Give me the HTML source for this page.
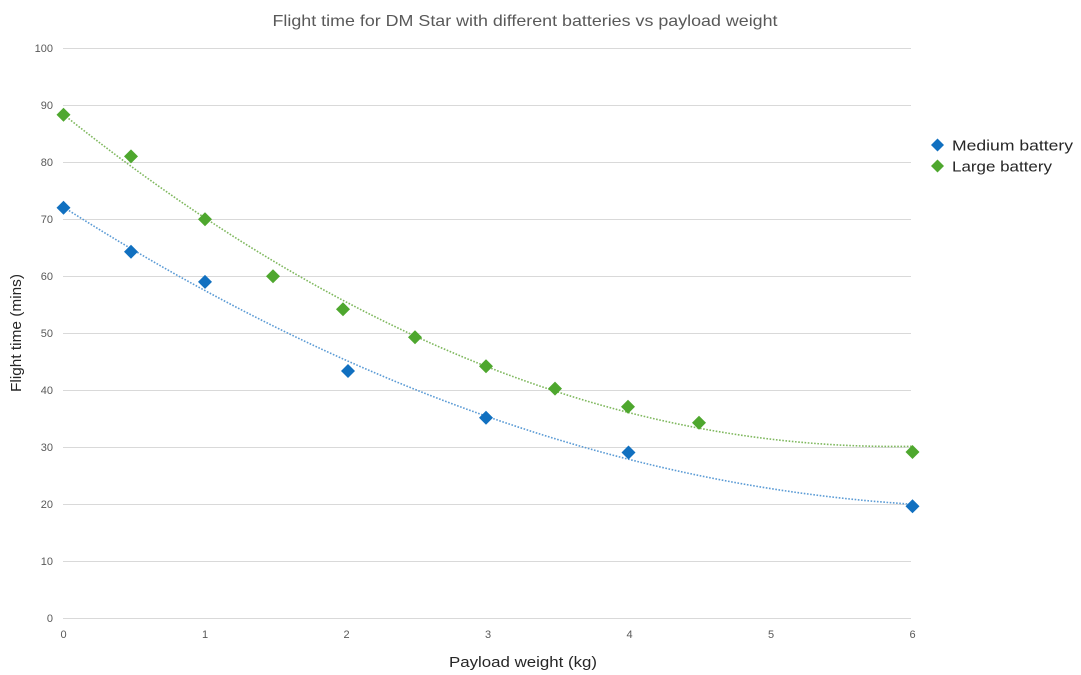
<!DOCTYPE html>
<html>
<head>
<meta charset="utf-8">
<style>
  html,body{margin:0;padding:0;background:#fff;}
  svg{display:block;}
  text{font-family:"Liberation Sans",sans-serif;}
</style>
</head>
<body>
<svg width="1081" height="675" viewBox="0 0 1081 675" xmlns="http://www.w3.org/2000/svg">
  <rect width="1081" height="675" fill="#fff"/>
  <!-- title -->
  <text x="525" y="26" font-size="16" fill="#595959" text-anchor="middle" textLength="505" lengthAdjust="spacingAndGlyphs">Flight time for DM Star with different batteries vs payload weight</text>

  <!-- gridlines -->
  <g stroke="#d9d9d9" stroke-width="1">
    <line x1="63" y1="48.5" x2="911" y2="48.5"/>
    <line x1="63" y1="105.5" x2="911" y2="105.5"/>
    <line x1="63" y1="162.5" x2="911" y2="162.5"/>
    <line x1="63" y1="219.5" x2="911" y2="219.5"/>
    <line x1="63" y1="276.5" x2="911" y2="276.5"/>
    <line x1="63" y1="333.5" x2="911" y2="333.5"/>
    <line x1="63" y1="390.5" x2="911" y2="390.5"/>
    <line x1="63" y1="447.5" x2="911" y2="447.5"/>
    <line x1="63" y1="504.5" x2="911" y2="504.5"/>
    <line x1="63" y1="561.5" x2="911" y2="561.5"/>
    <line x1="63" y1="618.5" x2="911" y2="618.5"/>
  </g>

  <!-- y tick labels -->
  <g font-size="11" fill="#595959" text-anchor="end">
    <text x="53" y="52">100</text>
    <text x="53" y="109">90</text>
    <text x="53" y="166">80</text>
    <text x="53" y="223">70</text>
    <text x="53" y="280">60</text>
    <text x="53" y="337">50</text>
    <text x="53" y="394">40</text>
    <text x="53" y="451">30</text>
    <text x="53" y="508">20</text>
    <text x="53" y="565">10</text>
    <text x="53" y="622">0</text>
  </g>

  <!-- x tick labels -->
  <g font-size="11" fill="#595959" text-anchor="middle">
    <text x="63.5" y="638">0</text>
    <text x="205" y="638">1</text>
    <text x="346.5" y="638">2</text>
    <text x="488" y="638">3</text>
    <text x="629.5" y="638">4</text>
    <text x="771" y="638">5</text>
    <text x="912.5" y="638">6</text>
  </g>

  <!-- axis titles -->
  <text x="523" y="667" font-size="15" fill="#262626" text-anchor="middle" textLength="148" lengthAdjust="spacingAndGlyphs">Payload weight (kg)</text>
  <text transform="translate(21,333) rotate(-90)" font-size="15" fill="#262626" text-anchor="middle" textLength="118" lengthAdjust="spacingAndGlyphs">Flight time (mins)</text>

  <!-- trendlines -->
  <path d="M63.5,114.5 Q488,453.8 912.5,446.3" fill="none" stroke="#7fb85e" stroke-width="1.6" stroke-dasharray="1.6 1.6"/>
  <path d="M63.5,207.1 Q488,477.9 912.5,504.2" fill="none" stroke="#5b9bd5" stroke-width="1.6" stroke-dasharray="1.6 1.6"/>

  <!-- medium battery markers -->
  <g fill="#1170c0">
    <polygon points="63.5,200.7 70.5,207.7 63.5,214.7 56.5,207.7"/>
    <polygon points="131,244.7 138,251.7 131,258.7 124,251.7"/>
    <polygon points="205,274.9 212,281.9 205,288.9 198,281.9"/>
    <polygon points="348,364 355,371 348,378 341,371"/>
    <polygon points="486,410.7 493,417.7 486,424.7 479,417.7"/>
    <polygon points="628.5,445.5 635.5,452.5 628.5,459.5 621.5,452.5"/>
    <polygon points="912.5,499.3 919.5,506.3 912.5,513.3 905.5,506.3"/>
  </g>

  <!-- large battery markers -->
  <g fill="#4ea72e">
    <polygon points="63.5,107.7 70.5,114.7 63.5,121.7 56.5,114.7"/>
    <polygon points="131,149.4 138,156.4 131,163.4 124,156.4"/>
    <polygon points="205,212.2 212,219.2 205,226.2 198,219.2"/>
    <polygon points="273,269.2 280,276.2 273,283.2 266,276.2"/>
    <polygon points="343,302.3 350,309.3 343,316.3 336,309.3"/>
    <polygon points="415,330.2 422,337.2 415,344.2 408,337.2"/>
    <polygon points="486,359.3 493,366.3 486,373.3 479,366.3"/>
    <polygon points="555,381.6 562,388.6 555,395.6 548,388.6"/>
    <polygon points="628,399.8 635,406.8 628,413.8 621,406.8"/>
    <polygon points="699,415.8 706,422.8 699,429.8 692,422.8"/>
    <polygon points="912.5,445 919.5,452 912.5,459 905.5,452"/>
  </g>

  <!-- legend -->
  <polygon points="937.5,138.5 944,145 937.5,151.5 931,145" fill="#1170c0"/>
  <text x="952" y="150.5" font-size="15" fill="#262626" textLength="121" lengthAdjust="spacingAndGlyphs">Medium battery</text>
  <polygon points="937.5,159.5 944,166 937.5,172.5 931,166" fill="#4ea72e"/>
  <text x="952" y="171.5" font-size="15" fill="#262626" textLength="100" lengthAdjust="spacingAndGlyphs">Large battery</text>
</svg>
</body>
</html>
